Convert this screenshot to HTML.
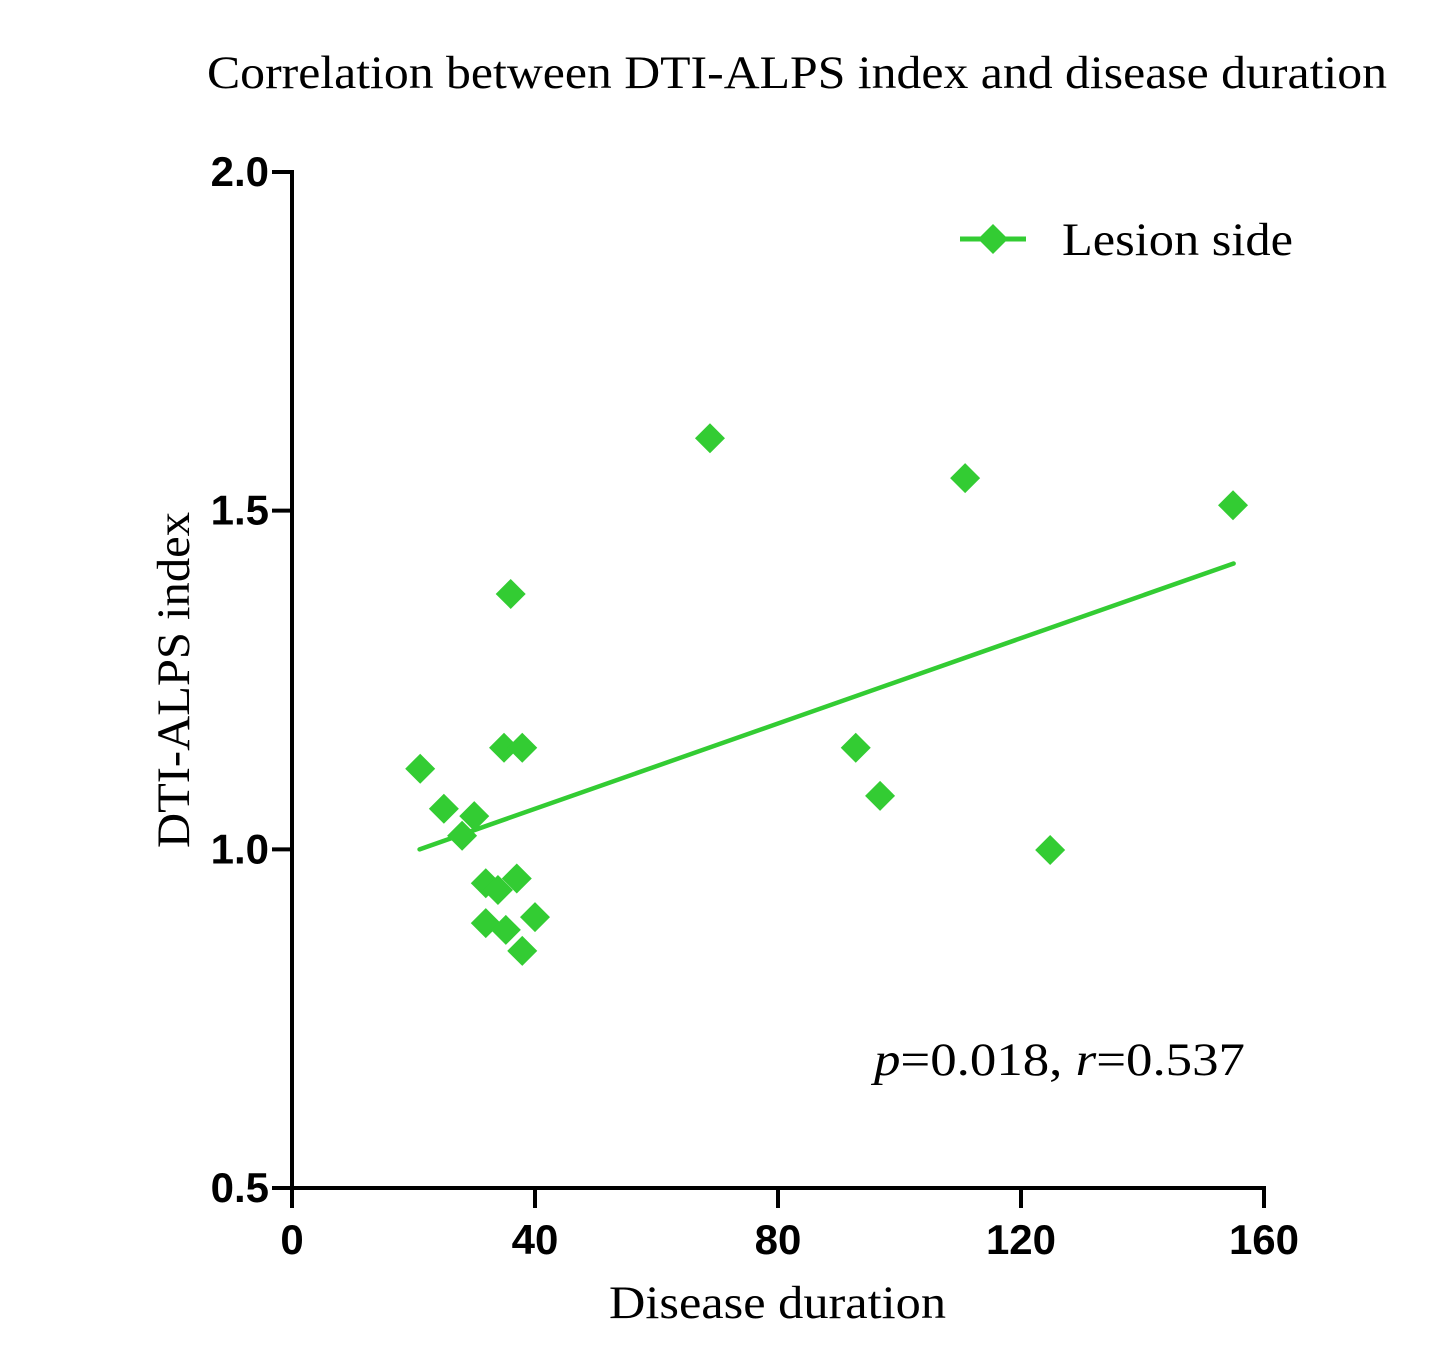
<!DOCTYPE html>
<html><head><meta charset="utf-8"><style>
html,body{margin:0;padding:0;background:#fff;}
svg{display:block;}
</style></head><body>
<svg id="chart" width="1430" height="1372" viewBox="0 0 1430 1372">
<text x="207" y="88" textLength="1180" lengthAdjust="spacingAndGlyphs" font-family="Liberation Serif, serif" font-size="47" fill="#000">Correlation between DTI-ALPS index and disease duration</text>
<text transform="translate(189,848) rotate(-90)" textLength="336" lengthAdjust="spacingAndGlyphs" font-family="Liberation Serif, serif" font-size="47" fill="#000">DTI-ALPS index</text>
<text x="609" y="1318" textLength="337" lengthAdjust="spacingAndGlyphs" font-family="Liberation Serif, serif" font-size="47" fill="#000">Disease duration</text>
<g id="axes"></g>
<g id="fit"></g>
<g id="pts"></g>
<g>
<line x1="960" y1="239" x2="1026" y2="239" stroke="#33cc33" stroke-width="5"/>
<polygon points="993,224 1008,239 993,254 978,239" fill="#33cc33"/>
<text x="1062" y="255" textLength="231" lengthAdjust="spacingAndGlyphs" font-family="Liberation Serif, serif" font-size="47" fill="#000">Lesion side</text>
</g>
<text x="874" y="1075" textLength="371" lengthAdjust="spacingAndGlyphs" font-family="Liberation Serif, serif" font-size="47" fill="#000"><tspan font-style="italic">p</tspan>=0.018, <tspan font-style="italic">r</tspan>=0.537</text>
</svg>
<script>
const durations=[21.1,25,30,28,31.9,33.9,31.9,35.2,37,37.9,40,34.9,37.9,36,68.8,92.8,96.8,110.8,124.8,154.9];
const alpsIndex=[1.119,1.06,1.049,1.02,0.95,0.94,0.891,0.881,0.957,0.85,0.9,1.15,1.15,1.377,1.607,1.15,1.079,1.548,0.999,1.508];
const fitX=[21,155];
const fitY=[1.0,1.422];
const xTicks=[0,40,80,120,160];
const yTicks=[0.5,1.0,1.5,2.0];
const yTickLabels=["0.5","1.0","1.5","2.0"];
const NS="http://www.w3.org/2000/svg";
const X0=292,X1=1264,Y0=1188,Y1=172;
function sx(v){return X0+(v-0)/(160-0)*(X1-X0);}
function sy(v){return Y0-(v-0.5)/(2.0-0.5)*(Y0-Y1);}
function mk(tag,attrs,parent){const e=document.createElementNS(NS,tag);for(const k in attrs)e.setAttribute(k,attrs[k]);parent.appendChild(e);return e;}
const axes=document.getElementById('axes');
let l=mk('line',{x1:X0,y1:Y1-2,x2:X0,y2:Y0+2,stroke:'#000','stroke-width':4},axes);


l=mk('line',{x1:X0-2,y1:Y0,x2:X1+2,y2:Y0,stroke:'#000','stroke-width':4},axes);


yTicks.forEach((t,i)=>{
 const y=sy(t);
 const tk=mk('line',{x1:X0-20,y1:y,x2:X0,y2:y,stroke:'#000','stroke-width':4},axes);
 
 
 const tx=mk('text',{x:X0-23,y:y+14,'text-anchor':'end','font-family':'Liberation Sans, sans-serif','font-weight':'bold','font-size':42,fill:'#000'},axes);
 tx.textContent=yTickLabels[i];
 
 
});
xTicks.forEach(t=>{
 const x=sx(t);
 const tk=mk('line',{x1:x,y1:Y0,x2:x,y2:Y0+20,stroke:'#000','stroke-width':4},axes);
 
 
 const tx=mk('text',{x:x,y:Y0+66,'text-anchor':'middle','font-family':'Liberation Sans, sans-serif','font-weight':'bold','font-size':42,fill:'#000'},axes);
 tx.textContent=String(t);
 
 
});
const fit=document.getElementById('fit');
const fl=mk('line',{x1:sx(fitX[0]),y1:sy(fitY[0]),x2:sx(fitX[1]),y2:sy(fitY[1]),stroke:'#33cc33','stroke-width':4.5,'stroke-linecap':'round'},fit);


const pts=document.getElementById('pts');
durations.forEach((d,i)=>{
 const x=sx(d),y=sy(alpsIndex[i]),r=15;
 const p=mk('polygon',{points:`${x},${y-r} ${x+r},${y} ${x},${y+r} ${x-r},${y}`,fill:'#33cc33'},pts);
 
 
});
</script>
</body></html>
